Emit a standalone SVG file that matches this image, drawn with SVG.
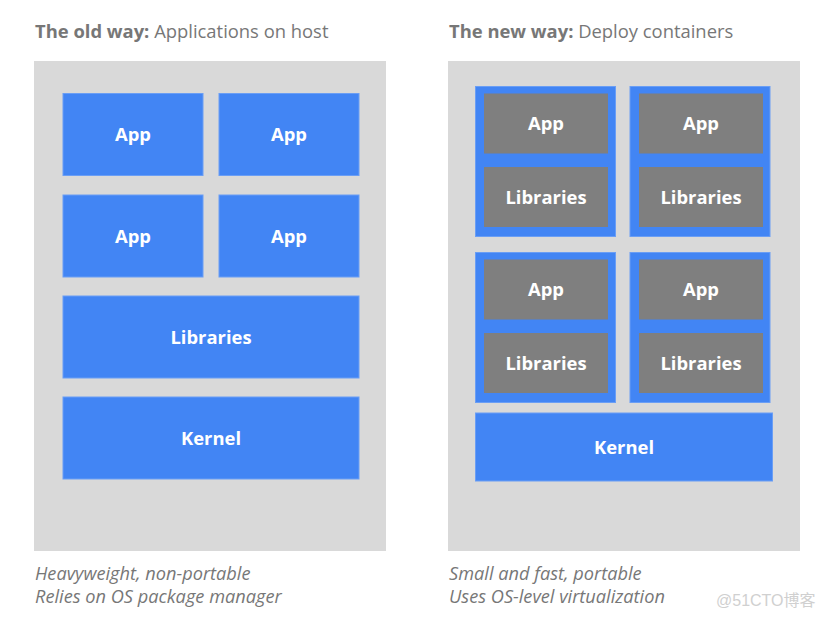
<svg xmlns="http://www.w3.org/2000/svg" width="825" height="618" viewBox="0 0 825 618">
<style>
.bg{fill:#d9d9d9}
.blue{fill:#4285f4;stroke:#6a9ef5;stroke-width:1}
.grey{fill:#7f7f7f}
.lbl{font-family:"Open Sans","DejaVu Sans",sans-serif;font-weight:bold;font-size:18.4px;fill:#fff;text-anchor:middle;dominant-baseline:central}
.title{font-family:"Open Sans","DejaVu Sans",sans-serif;font-size:18.4px;fill:#777}
.cap{font-family:"Open Sans","DejaVu Sans",sans-serif;font-style:italic;font-size:18.2px;fill:#777}
</style>
<rect width="825" height="618" fill="#fff"/>
<text class="title" x="35" y="38"><tspan font-weight="bold">The old way:</tspan> Applications on host</text>
<text class="title" x="449" y="38"><tspan font-weight="bold">The new way:</tspan> Deploy containers</text>
<rect class="bg" x="34" y="61" width="352" height="490"/>
<rect class="bg" x="448" y="61" width="352" height="490"/>
<g id="old-app1"><rect class="blue" x="63" y="93.5" width="140" height="82"/><text class="lbl" x="133" y="133.5">App</text></g>
<g id="old-app2"><rect class="blue" x="219" y="93.5" width="140" height="82"/><text class="lbl" x="289" y="133.5">App</text></g>
<g id="old-app3"><rect class="blue" x="63" y="195" width="140" height="82"/><text class="lbl" x="133" y="235">App</text></g>
<g id="old-app4"><rect class="blue" x="219" y="195" width="140" height="82"/><text class="lbl" x="289" y="235">App</text></g>
<g id="old-libs"><rect class="blue" x="63" y="296" width="296" height="82"/><text class="lbl" x="211" y="336">Libraries</text></g>
<g id="old-kernel"><rect class="blue" x="63" y="397" width="296" height="82"/><text class="lbl" x="211" y="437">Kernel</text></g>
<g id="c1"><rect class="blue" x="475.5" y="86.5" width="140" height="150"/><rect class="grey" x="484" y="93.5" width="124" height="60"/><text class="lbl" x="546" y="122.5">App</text><rect class="grey" x="484" y="167" width="124" height="60"/><text class="lbl" x="546" y="196">Libraries</text></g>
<g id="c2"><rect class="blue" x="630" y="86.5" width="140" height="150"/><rect class="grey" x="639" y="93.5" width="124" height="60"/><text class="lbl" x="701" y="122.5">App</text><rect class="grey" x="639" y="167" width="124" height="60"/><text class="lbl" x="701" y="196">Libraries</text></g>
<g id="c3"><rect class="blue" x="475.5" y="252.5" width="140" height="150"/><rect class="grey" x="484" y="259.5" width="124" height="60"/><text class="lbl" x="546" y="288.5">App</text><rect class="grey" x="484" y="333" width="124" height="60"/><text class="lbl" x="546" y="362">Libraries</text></g>
<g id="c4"><rect class="blue" x="630" y="252.5" width="140" height="150"/><rect class="grey" x="639" y="259.5" width="124" height="60"/><text class="lbl" x="701" y="288.5">App</text><rect class="grey" x="639" y="333" width="124" height="60"/><text class="lbl" x="701" y="362">Libraries</text></g>
<g id="new-kernel"><rect class="blue" x="475.5" y="413" width="297" height="68"/><text class="lbl" x="624" y="446">Kernel</text></g>
<g id="connectors"></g>
<text class="cap" x="35" y="580">Heavyweight, non-portable</text>
<text class="cap" x="35" y="603">Relies on OS package manager</text>
<text class="cap" x="449" y="580">Small and fast, portable</text>
<text class="cap" x="449" y="603">Uses OS-level virtualization</text>
<text x="716" y="606" font-family="'Liberation Sans','Noto Sans CJK SC',sans-serif" font-size="16" fill="#d0d0d0">@51CTO博客</text>
</svg>
